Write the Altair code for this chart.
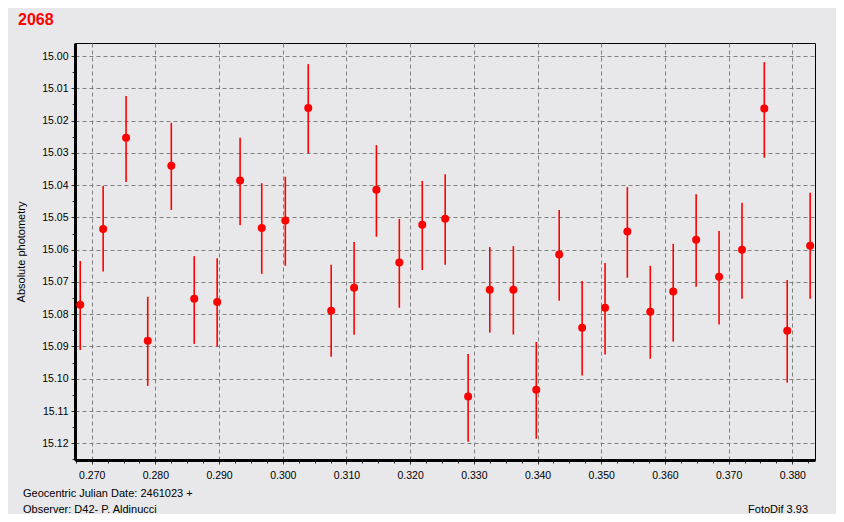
import altair as alt
import pandas as pd

# Geocentric JD fraction (+2461023)
jd = [0.2682, 0.2718, 0.2754, 0.2788, 0.2825, 0.2861, 0.2897, 0.2933, 0.2967, 0.3004,
      0.3040, 0.3076, 0.3112, 0.3147, 0.3183, 0.3219, 0.3255, 0.3291, 0.3325, 0.3362,
      0.3398, 0.3434, 0.3470, 0.3506, 0.3541, 0.3577, 0.3613, 0.3649, 0.3685, 0.3721,
      0.3756, 0.3792, 0.3828]
mag = [15.0771, 15.0536, 15.0253, 15.0882, 15.0340, 15.0752, 15.0762, 15.0386, 15.0533, 15.0510,
       15.0161, 15.0789, 15.0718, 15.0414, 15.0640, 15.0523, 15.0504, 15.1055, 15.0724, 15.0724,
       15.1034, 15.0615, 15.0842, 15.0780, 15.0544, 15.0792, 15.0730, 15.0569, 15.0684, 15.0600,
       15.0163, 15.0851, 15.0588]
mag_top = [15.0635, 15.0403, 15.0124, 15.0746, 15.0207, 15.0620, 15.0627, 15.0253, 15.0394, 15.0374,
           15.0025, 15.0647, 15.0576, 15.0276, 15.0505, 15.0387, 15.0366, 15.0923, 15.0592, 15.0589,
           15.0886, 15.0477, 15.0697, 15.0641, 15.0406, 15.0650, 15.0582, 15.0428, 15.0542, 15.0455,
           15.0019, 15.0694, 15.0424]
mag_bottom = [15.0911, 15.0668, 15.0390, 15.1022, 15.0477, 15.0892, 15.0900, 15.0524, 15.0675, 15.0650,
              15.0301, 15.0932, 15.0864, 15.0560, 15.0780, 15.0663, 15.0647, 15.1195, 15.0857, 15.0863,
              15.1186, 15.0758, 15.0990, 15.0925, 15.0687, 15.0938, 15.0885, 15.0715, 15.0832, 15.0752,
              15.0315, 15.1012, 15.0752]

x_ticks = [round(0.2675 + 0.0025 * i, 4) for i in range(47)]
y_ticks = [round(15.000 + 0.005 * i, 3) for i in range(26)]
x_domain = [0.26738, 0.38356]
y_domain = [14.99597, 15.12517]

title_text = "2068"
ylabel_text = "Absolute photometry"
footer1 = "Geocentric Julian Date: 2461023 +"
footer2 = "Observer: D42- P. Aldinucci"
footer3 = "FotoDif 3.93"

df = pd.DataFrame({"jd": jd, "mag": mag, "top": mag_top, "bottom": mag_bottom})

FONT = "Liberation Sans"
BG = "#E8E8EA"
major_test = "round(datum.value*1000) % 10 == 0"

x_axis = alt.Axis(
    values=x_ticks, tickCount=500, title=None,
    labelExpr=f"{major_test} ? format(datum.value, '.3f') : ''",
    labelOverlap=False, labelFlush=False, labelBound=False,
    labelFont=FONT, labelFontSize=10.5, labelColor="#000", labelPadding=6,
    domainColor="#000", domainWidth=3,
    tickColor="#333", tickWidth=1,
    tickSize={"condition": {"test": major_test, "value": 4}, "value": 3},
    grid=True, gridColor="#808080", gridDash=[4, 3], gridWidth=1,
    gridOpacity={"condition": {"test": major_test, "value": 1}, "value": 0},
)
y_axis = alt.Axis(
    values=y_ticks, tickCount=500, title=None,
    labelExpr=f"{major_test} ? format(datum.value, '.2f') : ''",
    labelOverlap=False, labelFlush=False, labelBound=False,
    labelFont=FONT, labelFontSize=10.5, labelColor="#000", labelPadding=3,
    domainColor="#000", domainWidth=3,
    tickColor="#333", tickWidth=1,
    tickSize={"condition": {"test": major_test, "value": 4}, "value": 3},
    grid=True, gridColor="#808080", gridDash=[4, 3], gridWidth=1,
    gridOpacity={"condition": {"test": major_test, "value": 1}, "value": 0},
)

xs = alt.Scale(domain=x_domain, nice=False, zero=False)
ys = alt.Scale(domain=y_domain, nice=False, zero=False, reverse=True)

base = alt.Chart(df)
bars = base.mark_rule(color="#FF0000", strokeWidth=1.6).encode(
    x=alt.X("jd:Q", scale=xs, axis=x_axis),
    y=alt.Y("top:Q", scale=ys, axis=y_axis),
    y2="bottom:Q",
)
pts = base.mark_point(filled=True, shape="circle", size=64, color="#FF0000", opacity=1).encode(
    x=alt.X("jd:Q", scale=xs),
    y=alt.Y("mag:Q", scale=ys),
)

one = alt.Data(values=[{"a": 1}])

def txt(text, x, y, **kw):
    return alt.Chart(one).mark_text(text=text, font=FONT, **kw).encode(
        x=alt.value(x), y=alt.value(y))

title = txt(title_text, -57, -18, fontSize=16, fontWeight="bold", color="#FF0000",
            align="left", baseline="alphabetic")
ylab = txt(ylabel_text, -53, 209, fontSize=11, color="#000", angle=270,
           align="center", baseline="middle")
f1 = txt(footer1, -52, 454, fontSize=11, color="#000", align="left", baseline="alphabetic")
f2 = txt(footer2, -52, 470, fontSize=11, color="#000", align="left", baseline="alphabetic")
f3 = txt(footer3, 733, 470, fontSize=11, color="#000", align="right", baseline="alphabetic")

chart = alt.layer(bars, pts, title, ylab, f1, f2, f3).properties(
    width=740, height=417,
    padding={"left": 67, "top": 35, "right": 21, "bottom": 54},
    autosize=alt.AutoSizeParams(type="none"),
).configure(background=BG).configure_view(stroke="#000", strokeWidth=1, fill=BG)

chart.save("out.html", embed_options={"renderer": "svg", "actions": False})
